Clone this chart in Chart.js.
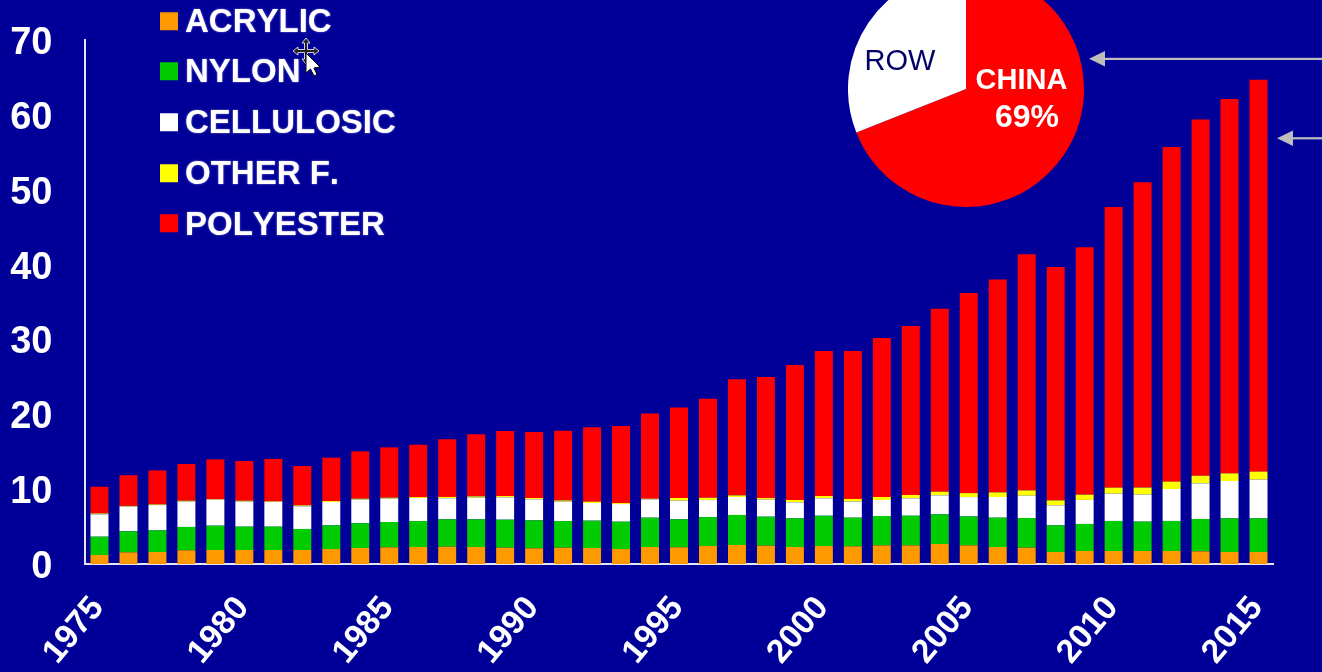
<!DOCTYPE html>
<html><head><meta charset="utf-8">
<script src="https://cdn.jsdelivr.net/npm/chart.js@4"></script>
<style>
html,body{margin:0;padding:0;width:1322px;height:672px;overflow:hidden;background:#000099;font-family:"Liberation Sans",Arial,sans-serif}
#main{position:absolute;left:0;top:0;width:1322px;height:672px}
#pieBox{position:absolute;left:848px;top:-29.5px;width:236px;height:236px}
.t{position:absolute;white-space:nowrap;line-height:1;transform:translate(-50%,-50%)}
.lg{position:absolute;left:185px;font:bold 33px "Liberation Sans",Arial,sans-serif;font-kerning:none;color:#fff;line-height:1;text-shadow:0 0 2px rgba(255,255,255,.55);white-space:nowrap;transform:translateY(-50%)}
.sw{position:absolute;left:160px;width:17.5px;height:17.5px;transform:translateY(-50%)}
svg{position:absolute;left:0;top:0}
</style></head><body>
<canvas id="main" width="1322" height="672"></canvas>
<div id="pieBox"><canvas id="pie" width="236" height="236"></canvas></div>
<div id="overlay"></div>
<svg width="1322" height="672">
<g fill="#bdbdbd" stroke="none">
<rect x="1104" y="57.8" width="218" height="2.2"/><polygon points="1089,58.8 1105,51 1105,66.6"/>
<rect x="1292" y="137.2" width="30" height="2.2"/><polygon points="1277,138.3 1293,130.5 1293,146"/>
</g>
<g transform="translate(306,51)" stroke="#000" stroke-width="1" fill="#fff">
<path d="M0,-13 L4,-8 L1.5,-8 L1.5,-1.5 L8,-1.5 L8,-4 L13,0 L8,4 L8,1.5 L1.5,1.5 L1.5,8 L4,8 L0,13 L-4,8 L-1.5,8 L-1.5,1.5 L-8,1.5 L-8,4 L-13,0 L-8,-4 L-8,-1.5 L-1.5,-1.5 L-1.5,-8 L-4,-8 Z" fill="#222" stroke="#fff" stroke-width=".8"/>
<path d="M0,2 L0,22 L4.5,18 L8,25 L11,23.5 L8,17 L14,16 Z"/>
</g>
</svg>
<script>
const years = [1975,1976,1977,1978,1979,1980,1981,1982,1983,1984,1985,1986,1987,1988,1989,1990,1991,1992,1993,1994,1995,1996,1997,1998,1999,2000,2001,2002,2003,2004,2005,2006,2007,2008,2009,2010,2011,2012,2013,2014,2015];
const acrylic = [1.2,1.56,1.6,1.83,1.87,1.87,1.87,1.87,2.0,2.14,2.23,2.27,2.32,2.27,2.18,2.09,2.18,2.14,2.0,2.27,2.23,2.4,2.54,2.45,2.27,2.4,2.36,2.49,2.49,2.67,2.49,2.27,2.18,1.6,1.74,1.74,1.74,1.74,1.69,1.6,1.6];
const nylon = [2.45,2.81,2.89,3.12,3.25,3.12,3.12,2.81,3.16,3.3,3.38,3.47,3.65,3.7,3.74,3.74,3.56,3.65,3.65,3.92,3.74,3.87,4.01,3.87,3.83,4.05,3.83,3.92,3.96,3.96,3.87,3.92,3.96,3.56,3.61,4.01,3.92,4.01,4.32,4.5,4.5];
const cellulosic = [2.98,3.3,3.38,3.38,3.47,3.34,3.3,3.03,3.12,3.16,3.12,3.07,2.81,2.89,2.98,2.81,2.58,2.36,2.36,2.45,2.49,2.27,2.4,2.27,2.14,2.32,2.14,2.14,2.32,2.54,2.58,2.76,2.98,2.67,3.21,3.65,3.61,4.27,4.76,4.99,5.17];
const otherF = [0.13,0.09,0.09,0.13,0.09,0.13,0.09,0.13,0.13,0.13,0.13,0.13,0.18,0.18,0.18,0.18,0.18,0.18,0.13,0.09,0.36,0.31,0.22,0.22,0.31,0.31,0.36,0.4,0.45,0.49,0.53,0.62,0.71,0.67,0.71,0.8,0.94,0.98,1.02,1.02,1.07];
const polyester = [3.56,4.1,4.54,4.9,5.3,5.3,5.66,5.25,5.79,6.32,6.72,6.99,7.7,8.28,8.68,8.82,9.31,9.93,10.29,11.36,12.07,13.23,15.5,16.16,18.03,19.37,19.77,21.25,22.58,24.44,26.72,28.43,31.56,31.19,33.04,37.5,40.8,44.7,47.6,50.0,52.36];
const seriesNames = ["ACRYLIC","NYLON","CELLULOSIC","OTHER F.","POLYESTER"];
const seriesColors = ["#FF9900","#00CC00","#FFFFFF","#FFFF00","#FF0000"];
const seriesValues = [acrylic,nylon,cellulosic,otherF,polyester];
const pieLabels = ["CHINA","ROW"];
const pieValues = [69,31];
const pieColors = ["#FF0000","#FFFFFF"];

const axisColor = "#E4E4F4";
const nudgeLabels = {
  id:"nudgeLabels",
  afterLayout(chart){
    chart.scales.y.getLabelItems().forEach(it=>{it.options.translation[1]+=3.5;it.options.translation[0]-=0.5;});
    chart.scales.x.getLabelItems().forEach(it=>{it.options.translation[0]-=1.5;it.options.translation[1]+=1;});
  }
};
new Chart(document.getElementById("main"),{
  type:"bar",
  plugins:[nudgeLabels],
  data:{labels:years,datasets:seriesNames.map((n,i)=>({label:n,data:seriesValues[i],backgroundColor:seriesColors[i],borderWidth:0,barPercentage:0.62,categoryPercentage:1}))},
  options:{
    responsive:false,animation:false,
    layout:{padding:{top:40,right:49,left:0,bottom:0},autoPadding:false},
    plugins:{legend:{display:false},tooltip:{enabled:false}},
    scales:{
      x:{stacked:true,grid:{display:false,drawTicks:false},border:{color:axisColor,width:2},
        afterFit(s){s.height=108;s.paddingLeft=0;s.paddingRight=0;},
        ticks:{autoSkip:false,minRotation:50,maxRotation:50,padding:24,color:"#fff",font:{family:"Liberation Sans",weight:"bold",size:33.5},
          callback(v,i){const y=this.getLabelForValue(v);return y%5===0?String(y):"";}}},
      y:{stacked:true,min:0,max:70,grid:{display:false,drawTicks:false},border:{color:axisColor,width:2},
        afterFit(s){s.width=85;s.paddingTop=0;s.paddingBottom=0;},
        ticks:{stepSize:10,padding:32,color:"#fff",font:{family:"Liberation Sans",weight:"bold",size:38}}}
    }
  }
});
new Chart(document.getElementById("pie"),{
  type:"pie",
  data:{labels:pieLabels,datasets:[{data:pieValues,backgroundColor:pieColors,borderWidth:0}]},
  options:{responsive:false,animation:false,layout:{padding:0},plugins:{legend:{display:false},tooltip:{enabled:false}}}
});
const ov=document.getElementById("overlay");
const swatchY=[21,71,122,173,223];
const textY=[19.5,70,120.7,172,222.7];
seriesNames.forEach((n,i)=>{
  ov.insertAdjacentHTML("beforeend",`<div class="sw" style="top:${swatchY[i]}px;background:${seriesColors[i]}"></div><div class="lg" style="top:${textY[i]}px">${n}</div>`);
});
ov.insertAdjacentHTML("beforeend",`<div class="t" style="left:900px;top:59.5px;font-size:29px;color:#000066">ROW</div>
<div class="t" style="left:1021.5px;top:79px;font-size:29px;font-weight:bold;color:#fff">CHINA</div>
<div class="t" style="left:1027px;top:116px;font-size:32px;font-weight:bold;color:#fff">69%</div>`);
</script>
</body></html>
